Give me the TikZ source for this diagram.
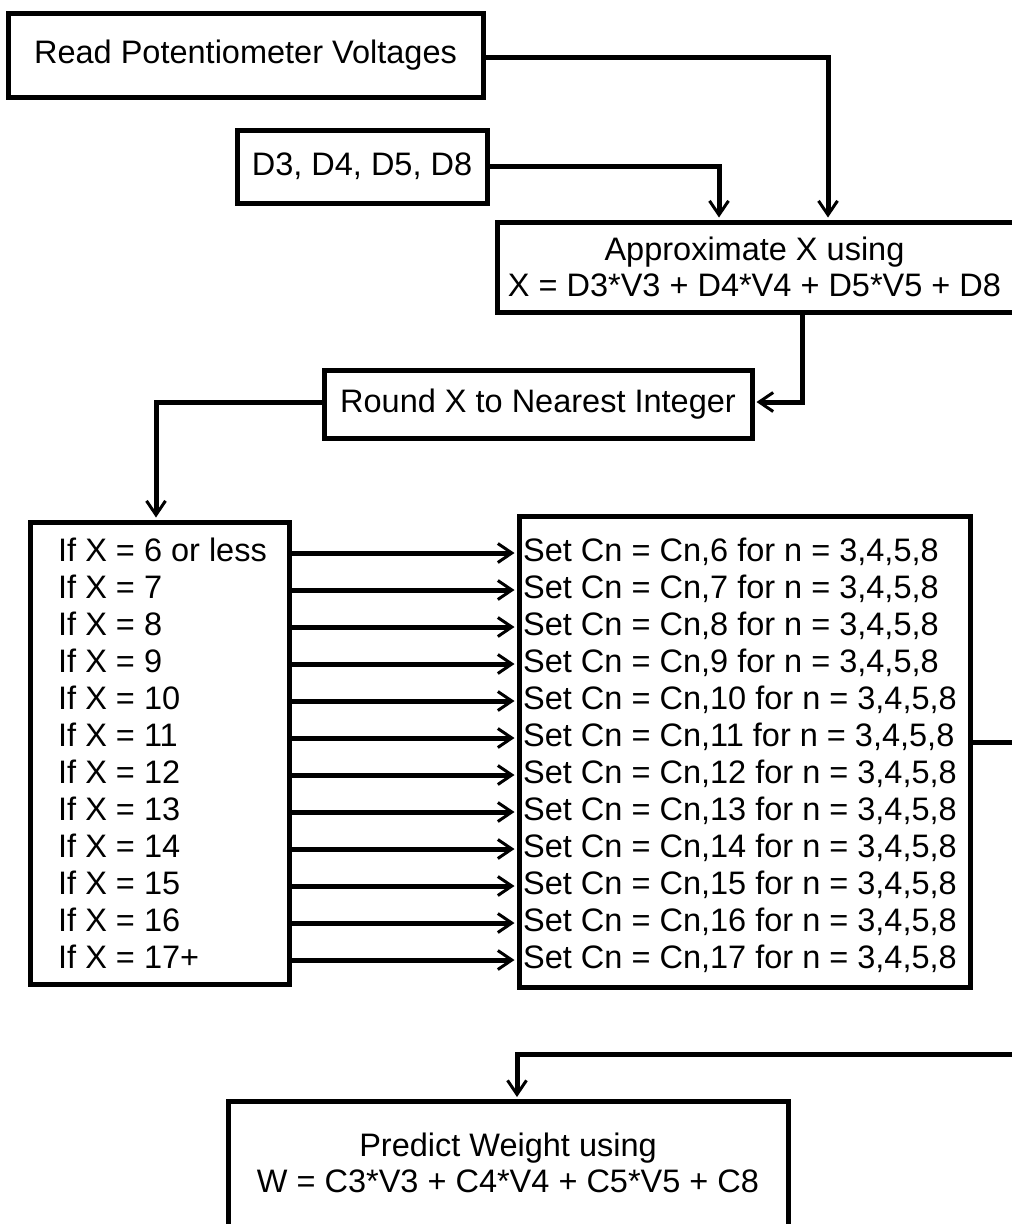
\documentclass[tikz,border=0pt]{standalone}
\usepackage{fontspec}
\setmainfont{Liberation Sans}
\usetikzlibrary{arrows.meta}
\begin{document}
\begin{tikzpicture}[x=1pt,y=-1pt,
  box/.style={draw,line width=5pt,inner sep=0pt,align=center},
  wire/.style={line width=5pt},
  conn/.style={wire,shorten >=2pt,-{Straight Barb[length=14pt,width=19pt,line width=3pt]}},
  rowtext/.style={anchor=west,inner sep=0pt,text height=23pt,text depth=7pt},
  font=\fontsize{32.5}{36}\selectfont]
\useasboundingbox (0,0) rectangle (1012,1224);
\clip (0,0) rectangle (1012,1224);
\fill[white] (0,0) rectangle (1012,1224);
\node[box,minimum width=475pt,minimum height=84pt] (read) at (245.5,55) {Read Potentiometer Voltages};
\node[box,minimum width=250pt,minimum height=73pt] (dvals) at (362,166.5) {D3, D4, D5, D8};
\node[box,minimum width=523pt,minimum height=90pt] (approx) at (758.5,267) {Approximate X using\hspace*{8pt}\\X = D3*V3 + D4*V4 + D5*V5 + D8\hspace*{8pt}};
\node[box,minimum width=428pt,minimum height=68pt] (round) at (538,404) {Round X to Nearest Integer};
\node[box,minimum width=259pt,minimum height=462pt] (ifbox) at (159.5,753) {};
\node[box,minimum width=451pt,minimum height=471pt] (setbox) at (744.5,751.5) {};
\node[box,anchor=north,minimum width=560pt,inner ysep=31.5pt] (predict) at (508,1099) {Predict Weight using\\W = C3*V3 + C4*V4 + C5*V5 + C8\\[60pt]\mbox{}};
\foreach \a/\b [count=\i] in {6 or less/6,7/7,8/8,9/9,10/10,11/11,12/12,13/13,14/14,15/15,16/16,17+/17}{
  \node[rowtext] (r\i) at (58,{516+37*\i}) {If X = \a};
  \node[rowtext] (s\i) at (523,{516+37*\i}) {Set Cn = Cn,\b{} for n = 3,4,5,8};
  \draw[conn] (ifbox.east |- r\i) -- (setbox.west |- s\i);
}
\draw[conn] ([yshift=-2pt]read.east) -| ([xshift=69.5pt]approx.north);
\draw[conn] (dvals.east) -| ([xshift=-39.5pt]approx.north);
\draw[conn] ([xshift=43.5pt]approx.south) |- ([yshift=2pt]round.east);
\draw[conn] ([yshift=2pt]round.west) -| ([xshift=-3.5pt]ifbox.north);
\coordinate (outR) at (1020,742);
\draw[wire] (setbox.east |- outR) -- (outR);
\coordinate (inR) at (1020,1054);
\draw[conn] (inR) -| ([xshift=9pt]predict.north);
\end{tikzpicture}
\end{document}
